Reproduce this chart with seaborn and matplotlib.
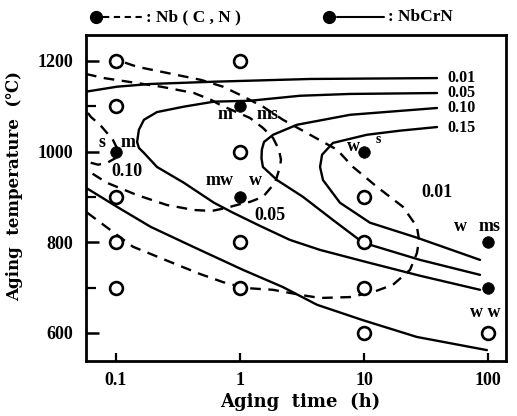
import matplotlib
matplotlib.use("Agg")
import matplotlib.pyplot as plt
from matplotlib.lines import Line2D
from matplotlib.ticker import NullLocator
import seaborn as sns
import numpy as np

# ---------------- data (aging time h, temperature C) ----------------
# NbCrN precipitation C-curves (solid)
nbcrn_001_up_t = [0.0573, 0.102, 0.19, 0.617, 3.67, 38.8]
nbcrn_001_up_T = [1132, 1143, 1149, 1154, 1160, 1162]
nbcrn_001_lo_t = [0.0573, 0.102, 0.19, 0.418, 1.057, 2.22, 4.18, 9.8, 26.7, 98.0]
nbcrn_001_lo_T = [920, 878, 834, 790, 739, 701, 662, 628, 591, 562]
nbcrn_005_t = [38.8, 7.71, 3.05, 1.204, 0.617, 0.353, 0.214, 0.168, 0.153, 0.148,
               0.153, 0.168, 0.214, 0.353, 0.617, 0.878, 1.449, 2.53, 4.42, 10.2, 28.3, 86.2]
nbcrn_005_T = [1129, 1127, 1123, 1112, 1110, 1099, 1087, 1070, 1048, 1021,
               1008, 997, 966, 931, 887, 865, 836, 805, 783, 757, 726, 695]
nbcrn_010_t = [38.8, 7.71, 2.88, 1.85, 1.56, 1.50, 1.49, 1.53, 1.99, 3.22, 5.62, 9.82, 28.3, 86.2]
nbcrn_010_T = [1096, 1081, 1059, 1037, 1021, 1004, 985, 966, 937, 900, 849, 799, 761, 728]
nbcrn_015_t = [38.8, 19.5, 10.57, 5.62, 4.59, 4.42, 4.67, 6.40, 11.17, 26.7, 86.2]
nbcrn_015_T = [1054, 1046, 1037, 1019, 993, 966, 937, 887, 843, 810, 761]

# Nb(C,N) precipitation C-curves (dashed)
nbcn_010_t = [0.0594, 0.0629, 0.0743, 0.0846, 0.0928, 0.100, 0.1038, 0.100, 0.0846, 0.0716, 0.0594]
nbcn_010_T = [1085, 1076, 1059, 1041, 1030, 1012, 999, 986, 975, 971, 977]
nbcn_005_t = [0.0573, 0.080, 0.2306, 0.4256, 0.5837, 0.6897, 1.204, 1.532, 1.846, 2.06, 2.14,
              2.10, 1.915, 1.532, 1.204, 1.0, 0.785, 0.595, 0.4256, 0.2578, 0.1477, 0.0846,
              0.0665, 0.0573]
nbcn_005_T = [1171, 1162, 1143, 1129, 1114, 1103, 1074, 1052, 1030, 1004, 982,
              966, 931, 900, 889, 884, 876, 869, 871, 882, 904, 931, 949, 960]
nbcn_001_t = [0.1182, 0.1477, 0.4844, 0.729, 1.0, 1.532, 2.222, 6.06, 8.15, 12.73, 20.6, 26.7,
              27.8, 26.7, 23.5, 17.1, 11.82, 7.71, 4.42, 3.05, 1.846, 1.097, 0.729, 0.4755,
              0.2882, 0.1371, 0.1019, 0.0703, 0.0573]
nbcn_001_T = [1196, 1187, 1158, 1143, 1125, 1099, 1070, 1004, 966, 922, 878, 834,
              805, 776, 739, 706, 690, 679, 677, 684, 695, 699, 712, 730,
              754, 790, 816, 849, 867]

# experimental points
open_t = [0.1, 0.1, 0.1, 0.1, 0.1, 1, 1, 1, 1, 10, 10, 10, 10, 100]
open_T = [1200, 1100, 900, 800, 700, 1200, 1000, 800, 700, 900, 800, 700, 600, 600]
filled_t = [0.1, 1, 1, 10, 100, 100]
filled_T = [1000, 1100, 900, 1000, 800, 700]

# curve labels at right edge (NbCrN)
right_labels = ["0.01", "0.05", "0.10", "0.15"]
right_label_T = [1163, 1129, 1095, 1052]
right_label_t = 46.7

# inner curve labels (Nb(C,N))
inner_labels = ["0.10", "0.05", "0.01"]
inner_label_t = [0.1227, 1.746, 38.8]
inner_label_T = [955, 860, 909]

# point annotations
note_text = ["s", "m", "m", "ms", "mw", "w", "w", "w", "ms", "w w"]
note_t = [0.0771, 0.125, 0.757, 1.683, 0.69, 1.32, 8.15, 59.4, 103.8, 94.6]
note_T = [1021, 1021, 1081, 1081, 937, 937, 1010, 834, 834, 646]
small_note = ("s", 12.97, 1027)

x_ticks = [0.1, 1, 10, 100]
x_ticklabels = ["0.1", "1", "10", "100"]
y_ticks = [600, 800, 1000, 1200]
y_minor = [700, 900, 1100]

# ---------------- styling ----------------
sns.set_theme(style="white")
plt.rcParams["font.family"] = ["Liberation Serif", "DejaVu Sans"]
plt.rcParams["font.weight"] = "bold"
plt.rcParams["text.color"] = "black"
plt.rcParams["xtick.color"] = "black"
plt.rcParams["ytick.color"] = "black"
plt.rcParams["axes.edgecolor"] = "black"
plt.rcParams["axes.labelcolor"] = "black"

fig = plt.figure(figsize=(5.17, 4.16), dpi=100)
ax = fig.add_axes([86 / 517, 55 / 416, 420 / 517, 326 / 416])
ax.set_xscale("log")

LW = 1.7
solid_curves = [(nbcrn_001_up_t, nbcrn_001_up_T), (nbcrn_001_lo_t, nbcrn_001_lo_T),
                (nbcrn_005_t, nbcrn_005_T), (nbcrn_010_t, nbcrn_010_T),
                (nbcrn_015_t, nbcrn_015_T)]
for t, T in solid_curves:
    sns.lineplot(x=t, y=T, sort=False, estimator=None, color="black",
                 linewidth=LW, ax=ax)

dashed_curves = [(nbcn_010_t, nbcn_010_T), (nbcn_005_t, nbcn_005_T), (nbcn_001_t, nbcn_001_T)]
for t, T in dashed_curves:
    sns.lineplot(x=t, y=T, sort=False, estimator=None, color="black",
                 linewidth=LW, linestyle=(0, (4.5, 3.2)), ax=ax)

sns.scatterplot(x=open_t, y=open_T, s=85, marker="o", color="white",
                edgecolor="black", linewidth=1.9, zorder=5, ax=ax)
sns.scatterplot(x=filled_t, y=filled_T, s=70, marker="o", color="black",
                edgecolor="black", linewidth=0.5, zorder=5, ax=ax)

ax.set_xlim(0.0573, 139.6)
ax.set_ylim(538, 1257)

ax.set_xticks(x_ticks)
ax.set_xticklabels(x_ticklabels)
ax.xaxis.set_minor_locator(NullLocator())
ax.set_yticks(y_ticks)
ax.set_yticks(y_minor, minor=True)

ax.tick_params(axis="both", which="both", direction="in", top=False, right=False,
               left=True, bottom=True)
ax.tick_params(axis="y", which="major", length=9, width=1.8, pad=9, labelsize=13)
ax.tick_params(axis="y", which="minor", length=7, width=1.6)
ax.tick_params(axis="x", which="major", length=6, width=1.6, pad=8, labelsize=13)
for lab in ax.get_xticklabels() + ax.get_yticklabels():
    lab.set_fontweight("bold")
for sp in ax.spines.values():
    sp.set_linewidth(2.0)
    sp.set_color("black")

label_family = ["DejaVu Serif", "DejaVu Sans"]
ax.set_xlabel("Aging  time  (h)", fontsize=13, fontweight="bold", family=label_family)
ax.xaxis.set_label_coords(0.51, -0.126)
ax.xaxis.label.set_va("center")
ax.set_ylabel("Aging  temperature  (℃)", fontsize=12, fontweight="bold", family=label_family)
ax.yaxis.set_label_coords(-0.169, 0.537)
ax.yaxis.label.set_va("center")

for txt, T in zip(right_labels, right_label_T):
    ax.text(right_label_t, T, txt, ha="left", va="center", fontsize=11.5, fontweight="bold")
for txt, t, T in zip(inner_labels, inner_label_t, inner_label_T):
    ax.text(t, T, txt, ha="center", va="center", fontsize=13, fontweight="bold")
for txt, t, T in zip(note_text, note_t, note_T):
    ax.text(t, T, txt, ha="center", va="center", fontsize=13, fontweight="bold", zorder=6)
ax.text(small_note[1], small_note[2], small_note[0], ha="center", va="center",
        fontsize=10, fontweight="bold", zorder=6)

# legend row above the frame
yl = 1 - 17 / 416
fig.add_artist(Line2D([96 / 517], [yl], marker="o", markersize=8.5, color="black",
                      transform=fig.transFigure))
fig.add_artist(Line2D([103 / 517, 142 / 517], [yl, yl], color="black", linewidth=1.5,
                      linestyle=(0, (3, 2.2)), transform=fig.transFigure))
fig.text(146 / 517, yl, ": Nb ( C , N )", ha="left", va="center", fontsize=12.5,
         fontweight="bold")
fig.add_artist(Line2D([329 / 517], [yl], marker="o", markersize=8.5, color="black",
                      transform=fig.transFigure))
fig.add_artist(Line2D([337 / 517, 384 / 517], [yl, yl], color="black", linewidth=1.5,
                      transform=fig.transFigure))
fig.text(388 / 517, yl, ": NbCrN", ha="left", va="center", fontsize=12.5, fontweight="bold")

fig.savefig("out.png", dpi=100)
